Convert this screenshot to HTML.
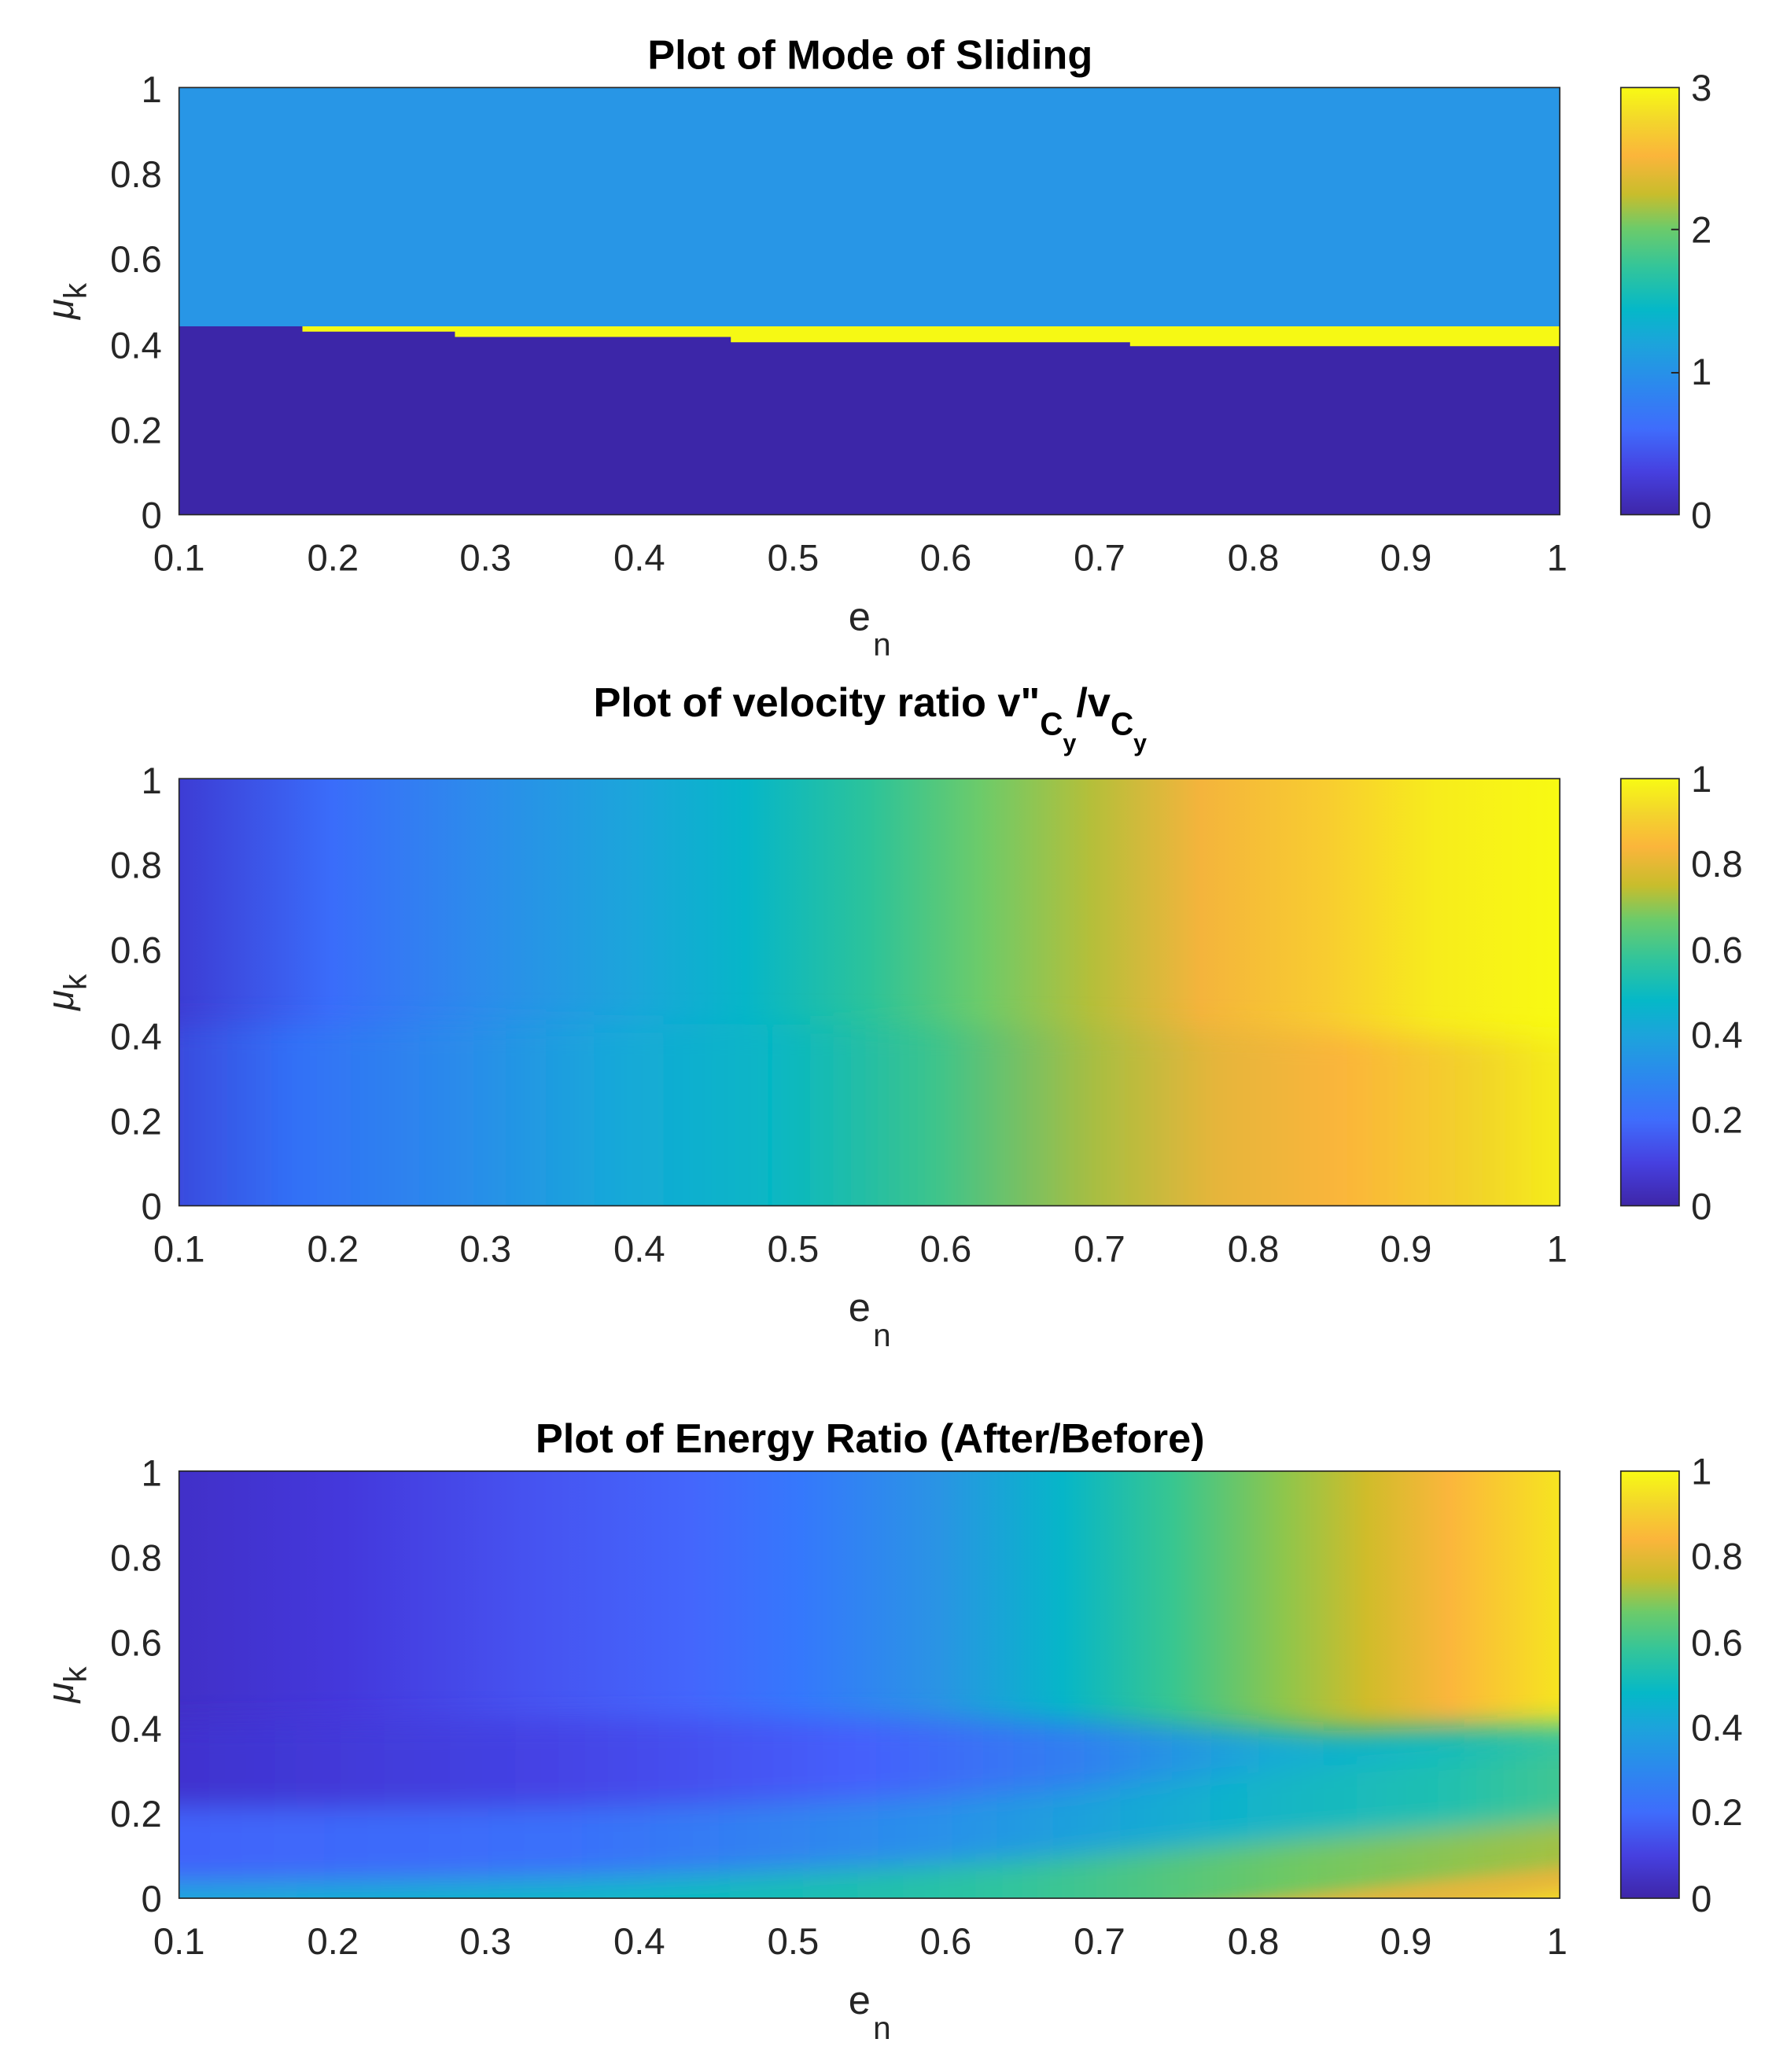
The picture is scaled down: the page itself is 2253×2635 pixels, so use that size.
<!DOCTYPE html>
<html><head><meta charset="utf-8"><style>html,body{margin:0;padding:0;background:#fff}svg{display:block}</style></head>
<body>
<svg width="2253" height="2635" viewBox="0 0 1336 1562" preserveAspectRatio="none" xmlns="http://www.w3.org/2000/svg" font-family="'Liberation Sans', sans-serif">
<defs>
<linearGradient id="cb" x1="0" y1="1" x2="0" y2="0">
<stop offset="0" stop-color="#3e26a8"/><stop offset="0.1" stop-color="#4640e0"/><stop offset="0.2" stop-color="#3f6cfc"/>
<stop offset="0.3" stop-color="#2c88ee"/><stop offset="0.4" stop-color="#1ca4db"/><stop offset="0.48" stop-color="#05b8c8"/>
<stop offset="0.58" stop-color="#33c59a"/><stop offset="0.67" stop-color="#6ccb6a"/><stop offset="0.75" stop-color="#c8bd2c"/>
<stop offset="0.84" stop-color="#fbb53b"/><stop offset="0.92" stop-color="#f3d52c"/><stop offset="1" stop-color="#f8fa14"/>
</linearGradient>
<linearGradient id="v2t" x1="0" y1="0" x2="1" y2="0">
<stop offset="0" stop-color="#3d3cd4"/><stop offset="0.11" stop-color="#3a6cfa"/><stop offset="0.22" stop-color="#2c8ceb"/>
<stop offset="0.33" stop-color="#1ba6da"/><stop offset="0.41" stop-color="#06b6c8"/><stop offset="0.5" stop-color="#2cc39a"/>
<stop offset="0.58" stop-color="#6ccb6a"/><stop offset="0.66" stop-color="#b4bf3a"/><stop offset="0.74" stop-color="#f4b43c"/>
<stop offset="0.83" stop-color="#f8cc30"/><stop offset="0.91" stop-color="#f7ec1c"/><stop offset="1" stop-color="#f8fa12"/>
</linearGradient>
<linearGradient id="v2b" x1="0" y1="0" x2="1" y2="0">
<stop offset="0" stop-color="#3d3cd4"/><stop offset="0.11" stop-color="#3270f7"/><stop offset="0.22" stop-color="#2b8aeb"/>
<stop offset="0.33" stop-color="#17a8d9"/><stop offset="0.44" stop-color="#05b7c4"/><stop offset="0.55" stop-color="#3cc48c"/>
<stop offset="0.66" stop-color="#a9be40"/><stop offset="0.74" stop-color="#e5b53a"/><stop offset="0.83" stop-color="#fbb53a"/>
<stop offset="0.92" stop-color="#f2d32a"/><stop offset="1" stop-color="#f6f614"/>
</linearGradient>
<linearGradient id="e3t" x1="0" y1="0" x2="1" y2="0">
<stop offset="0" stop-color="#4130c8"/><stop offset="0.12" stop-color="#4438dc"/><stop offset="0.25" stop-color="#4652f0"/>
<stop offset="0.37" stop-color="#4466fc"/><stop offset="0.45" stop-color="#3578fc"/><stop offset="0.55" stop-color="#2a94e4"/>
<stop offset="0.64" stop-color="#06b6c8"/><stop offset="0.72" stop-color="#38c690"/><stop offset="0.8" stop-color="#8ec64c"/>
<stop offset="0.86" stop-color="#d0bc2a"/><stop offset="0.92" stop-color="#fbb63c"/><stop offset="1" stop-color="#f6e420"/>
</linearGradient>
<linearGradient id="e3b" x1="0" y1="0" x2="1" y2="0">
<stop offset="0" stop-color="#4030cc"/><stop offset="0.3" stop-color="#4444e6"/><stop offset="0.5" stop-color="#4560fc"/>
<stop offset="0.65" stop-color="#3080f0"/><stop offset="0.78" stop-color="#18aad6"/><stop offset="0.88" stop-color="#06b8c6"/><stop offset="1" stop-color="#30c4a0"/>
</linearGradient>
<linearGradient id="e3c" x1="0" y1="0" x2="1" y2="0">
<stop offset="0" stop-color="#4262fa"/><stop offset="0.3" stop-color="#3a70fa"/><stop offset="0.55" stop-color="#2a90ea"/>
<stop offset="0.75" stop-color="#10b2cc"/><stop offset="0.9" stop-color="#20c0b0"/><stop offset="1" stop-color="#48c88a"/>
</linearGradient>
<linearGradient id="e3d" x1="0" y1="0" x2="1" y2="0">
<stop offset="0" stop-color="#16a8dc"/><stop offset="0.35" stop-color="#08b8c6"/><stop offset="0.6" stop-color="#30c49e"/>
<stop offset="0.8" stop-color="#70c862"/><stop offset="1" stop-color="#a8c040"/>
</linearGradient>
<filter id="bl" x="-5%" y="-30%" width="110%" height="160%"><feGaussianBlur stdDeviation="10"/></filter>
<filter id="bl2" x="-5%" y="-30%" width="110%" height="160%"><feGaussianBlur stdDeviation="6"/></filter>
<clipPath id="c3"><rect x="135" y="1109" width="1041" height="322"/></clipPath>
<clipPath id="c2"><rect x="135" y="587" width="1041" height="322"/></clipPath>
</defs>

<text x="656" y="52" text-anchor="middle" font-size="31" font-weight="bold">Plot of Mode of Sliding</text>
<rect x="135" y="66" width="1041" height="322" fill="#2896e6"/>
<rect x="135" y="246" width="1041" height="142" fill="#3c26a8"/>
<path d="M228 246 H1176 V261 H852 V258 H551 V254 H343 V250 H228 Z" fill="#f6f914"/>
<rect x="135" y="66" width="1041" height="322" fill="none" stroke="#262626" stroke-width="1"/>
<rect x="1222" y="66" width="44" height="322" fill="url(#cb)" stroke="#262626" stroke-width="1"/>
<g stroke="#262626" stroke-width="1.2"><line x1="1260" y1="173" x2="1266" y2="173"/><line x1="1260" y1="281" x2="1266" y2="281"/></g>
<g font-size="28" fill="#262626">
<text x="1275" y="76">3</text><text x="1275" y="183">2</text><text x="1275" y="290">1</text><text x="1275" y="398">0</text>
</g>

<text x="656" y="540" text-anchor="middle" font-size="31" font-weight="bold">Plot of  velocity ratio v"<tspan font-size="24" dy="14">C</tspan><tspan font-size="18" dy="12">y</tspan><tspan dy="-26">/v</tspan><tspan font-size="24" dy="14">C</tspan><tspan font-size="18" dy="12">y</tspan></text>
<g clip-path="url(#c2)">
<rect x="135" y="587" width="1041" height="322" fill="url(#v2t)"/>
<g filter="url(#bl)"><path d="M100 772 L500 772 Q800 772 1200 785 V950 H100 Z" fill="url(#v2b)"/></g>
</g>
<rect x="135" y="587" width="1041" height="322" fill="none" stroke="#262626" stroke-width="1"/>
<rect x="1222" y="587" width="44" height="322" fill="url(#cb)" stroke="#262626" stroke-width="1"/>
<g font-size="28" fill="#262626">
<text x="1275" y="597">1</text><text x="1275" y="661">0.8</text><text x="1275" y="726">0.6</text><text x="1275" y="790">0.4</text><text x="1275" y="854">0.2</text><text x="1275" y="919">0</text>
</g>

<text x="656" y="1095" text-anchor="middle" font-size="31" font-weight="bold">Plot of Energy Ratio (After/Before)</text>
<g clip-path="url(#c3)">
<rect x="135" y="1109" width="1041" height="322" fill="url(#e3t)"/>
<g filter="url(#bl)">
<path d="M100 1300 Q700 1290 1000 1305 L1200 1300 V1460 H100 Z" fill="url(#e3b)"/>
<path d="M100 1362 Q500 1368 800 1350 Q1000 1330 1200 1318 V1460 H100 Z" fill="url(#e3c)"/>
<path d="M100 1420 Q500 1420 800 1400 Q1000 1385 1200 1372 V1460 H100 Z" fill="url(#e3d)"/>
</g>
<g filter="url(#bl2)">
<path d="M880 1440 Q1000 1425 1200 1405 V1460 H880 Z" fill="#f2b43a" opacity="0.85"/>
<path d="M1080 1440 L1200 1422 V1460 Z" fill="#f6e420" opacity="0.8"/>
</g>
</g>
<rect x="135" y="1109" width="1041" height="322" fill="none" stroke="#262626" stroke-width="1"/>
<rect x="1222" y="1109" width="44" height="322" fill="url(#cb)" stroke="#262626" stroke-width="1"/>
<g font-size="28" fill="#262626">
<text x="1275" y="1119">1</text><text x="1275" y="1183">0.8</text><text x="1275" y="1248">0.6</text><text x="1275" y="1312">0.4</text><text x="1275" y="1376">0.2</text><text x="1275" y="1441">0</text>
</g>

<g font-size="28" fill="#262626">
<g id="ax1">
<g text-anchor="end">
<text x="122" y="77">1</text><text x="122" y="141">0.8</text><text x="122" y="205">0.6</text><text x="122" y="270">0.4</text><text x="122" y="334">0.2</text><text x="122" y="398">0</text>
</g>
<g text-anchor="middle">
<text x="135" y="430">0.1</text><text x="251" y="430">0.2</text><text x="366" y="430">0.3</text><text x="482" y="430">0.4</text><text x="598" y="430">0.5</text><text x="713" y="430">0.6</text><text x="829" y="430">0.7</text><text x="945" y="430">0.8</text><text x="1060" y="430">0.9</text><text x="1174" y="430">1</text>
<text x="648" y="475" font-size="30">e</text><text x="665" y="494" font-size="24">n</text>
</g>
<text transform="translate(55 227) rotate(-90)" font-size="28" font-style="italic" text-anchor="middle">μ<tspan font-style="normal" font-size="24" dy="10">k</tspan></text>
</g>
<use href="#ax1" y="521"/>
<use href="#ax1" y="1043"/>
</g>
</svg>
</body></html>
